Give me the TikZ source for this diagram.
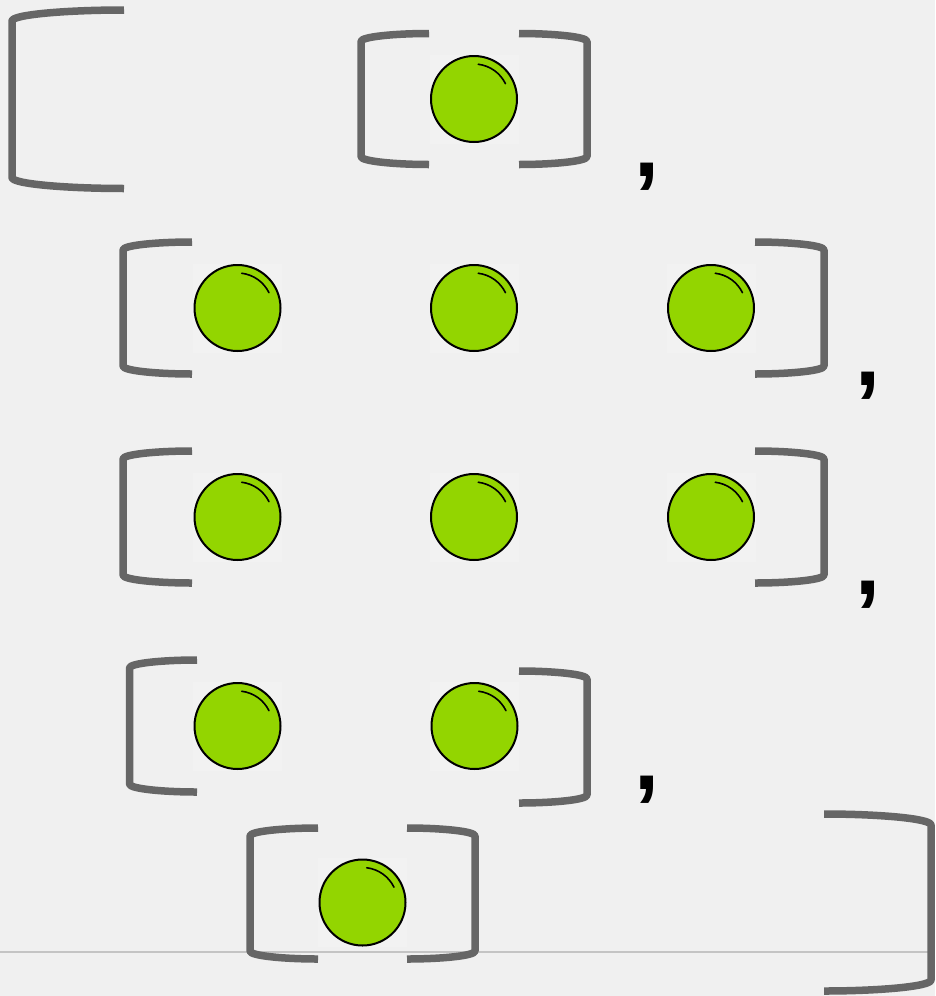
\documentclass[tikz,border=0pt]{standalone}
\usepackage{fontspec}
\newfontfamily\commafont{Liberation Sans}
\definecolor{bgc}{HTML}{F0F0F0}
\definecolor{ballbg}{HTML}{F2F2F2}
\definecolor{brkc}{HTML}{666666}
\definecolor{ballg}{HTML}{93D500}
\definecolor{rulec}{HTML}{C4C4C4}
\tikzset{
  brkline/.style={draw=brkc, line width=7.5pt, line cap=butt, line join=round},
  ballnode/.style={circle, draw=black, line width=2pt, fill=ballg, minimum size=86pt, inner sep=0pt},
  ballsq/.style={fill=ballbg, draw=none, minimum size=89pt, inner sep=0pt},
  shine/.style={draw=black, line width=1.6pt, line cap=round},
  commast/.style={font=\commafont\bfseries\fontsize{90}{90}\selectfont, inner sep=0pt, text=black},
}
% bracket: #1 vertical x, #2 top y, #3 bottom y, #4 arm end x, #5 corner depth
\newcommand\mybrk[5]{%
  \draw[brkline] (#4,#2) .. controls ({#1+0.5*(#4-#1)},#2) and (#1,{#2+0.4*#5}) .. (#1,{#2+#5})
    -- (#1,{#3-#5}) .. controls (#1,{#3-0.4*#5}) and ({#1+0.5*(#4-#1)},#3) .. (#4,#3);}
% ball: #1 name, #2 x, #3 y
\newcommand\myball[3]{%
  \node[ballsq] (#1sq) at (#2,#3) {};
  \node[ballnode] (#1) at (#2,#3) {};
  \draw[shine] ({#2+35*cos(83)},{#3-35*sin(83)}) arc[start angle=83, end angle=26, radius=35pt];}
\begin{document}
\begin{tikzpicture}[x=1pt,y=-1pt]
\useasboundingbox (0,0) rectangle (935,996);
\fill[bgc] (0,0) rectangle (935,996);
% baseline rule
\coordinate (rl) at (0,952);
\coordinate (rr) at (931,952);
\draw[rulec, line width=1.3pt] (rl) -- (rr);
% outer brackets
\mybrk{12}{10}{188.5}{124}{11}
\mybrk{931}{814}{991}{824}{11}
% row 1
\mybrk{361}{33.5}{164.5}{429}{8}
\mybrk{587}{33.5}{164.5}{519}{8}
\myball{b11}{474}{99}
\node[commast] (c1) at (647,176.5) {,};
% row 2
\mybrk{123}{242}{374}{192}{8}
\mybrk{824}{242}{374}{755}{8}
\myball{b21}{237.5}{308}
\myball{b22}{474}{308}
\myball{b23}{711}{308}
\node[commast] (c2) at (868,386) {,};
% row 3
\mybrk{123}{451}{583}{192}{8}
\mybrk{824}{451}{583}{755}{8}
\myball{b31}{237.5}{517}
\myball{b32}{474}{517}
\myball{b33}{711}{517}
\node[commast] (c3) at (868,595) {,};
% row 4
\mybrk{129.5}{660}{792}{197}{8}
\mybrk{587}{671}{803}{519}{8}
\myball{b41}{237.5}{726}
\myball{b42}{474.5}{726}
\node[commast] (c4) at (647,790) {,};
% row 5
\mybrk{250}{828}{959}{318}{8}
\mybrk{475}{828}{959}{407}{8}
\myball{b51}{362.5}{902.5}
\end{tikzpicture}
\end{document}
